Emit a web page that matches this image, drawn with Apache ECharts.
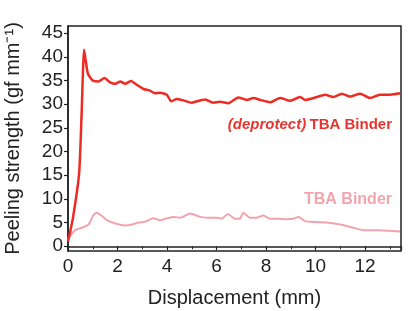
<!DOCTYPE html>
<html>
<head>
<meta charset="utf-8">
<script src="https://cdn.jsdelivr.net/npm/echarts@6/dist/echarts.min.js"></script>
<style>
html,body{margin:0;padding:0;background:#fff}
#main{width:412px;height:311px}
</style>
</head>
<body>
<div id="main"></div>
<script>
// peel curves: [displacement mm, strength gf/mm]
var deprotectData = [
  [0,1],[0.2,6],[0.45,15.5],[0.55,28],[0.65,41.5],[0.72,39],[0.8,36.5],[0.9,35.6],
  [1.03,34.9],[1.23,34.8],[1.47,35.5],[1.7,34.6],[1.91,34.3],[2.11,34.8],[2.31,34.3],
  [2.54,34.9],[2.78,34.1],[3.05,33.2],[3.29,32.9],[3.52,32.3],[3.72,32.4],[3.99,32.0],
  [4.17,30.6],[4.4,31.1],[4.66,30.8],[5.0,30.3],[5.2,30.6],[5.54,31.0],[5.87,30.3],
  [6.14,30.5],[6.48,30.2],[6.88,31.4],[7.22,30.9],[7.49,31.3],[7.76,30.9],[8.17,30.4],
  [8.57,31.3],[8.97,30.7],[9.38,31.5],[9.58,30.9],[10.05,31.5],[10.38,32.0],[10.72,31.5],
  [11.06,32.2],[11.39,31.6],[11.8,32.2],[12.2,31.3],[12.6,32.0],[13.01,32.0],[13.41,32.3]
];
var tbaData = [
  [0,1.5],[0.06,2.0],[0.29,3.4],[0.56,3.9],[0.83,4.6],[1.03,6.6],[1.17,7.1],[1.37,6.4],
  [1.57,5.5],[1.91,4.8],[2.31,4.4],[2.58,4.6],[2.85,5.0],[3.12,5.2],[3.45,5.9],[3.72,5.5],
  [3.99,5.9],[4.26,6.2],[4.53,6.0],[4.93,6.9],[5.34,6.2],[5.74,6.0],[6.01,6.0],[6.21,5.8],
  [6.45,6.8],[6.75,5.8],[6.95,5.9],[7.08,7.1],[7.36,6.0],[7.6,6.0],[7.89,6.5],[8.16,5.8],
  [8.5,5.8],[8.84,5.7],[9.1,5.8],[9.31,6.2],[9.58,5.3],[10.05,5.1],[10.45,5.0],[11.0,4.6],
  [11.53,3.9],[11.93,3.4],[12.6,3.4],[13.14,3.2],[13.41,3.1]
];
var yTicks = [0,5,10,15,20,25,30,35,40,45];

var font = 'Liberation Sans, Arial, sans-serif';
var chart = echarts.init(document.getElementById('main'));
chart.setOption({
  animation: false,
  grid: {left: 68, right: 11, top: 26, bottom: 60, outerBoundsMode: 'none', containLabel: false,
    show: true, borderColor: '#222', borderWidth: 1.5},
  xAxis: {
    type: 'value', min: 0, max: 13.45, interval: 2,
    name: 'Displacement (mm)', nameLocation: 'middle', nameGap: 37,
    nameTextStyle: {fontFamily: font, fontSize: 20, color: '#222'},
    axisLine: {lineStyle: {color: '#222', width: 1.5}},
    axisTick: {length: 4, lineStyle: {color: '#222', width: 1.2}},
    minorTick: {show: true, splitNumber: 2, length: 3, lineStyle: {color: '#222'}},
    axisLabel: {fontFamily: font, fontSize: 19, color: '#222', margin: 6,
      formatter: function (v) { return v > 13 ? '' : v; }},
    splitLine: {show: false}
  },
  yAxis: {
    type: 'value', min: -1, max: 46.5,
    name: 'Peeling strength (gf mm⁻¹)', nameLocation: 'middle', nameGap: 45,
    nameTextStyle: {fontFamily: font, fontSize: 20, color: '#222'},
    axisLine: {show: true, lineStyle: {color: '#222', width: 1.5}},
    axisTick: {show: true, length: 4, customValues: yTicks, lineStyle: {color: '#222', width: 1.2}},
    axisLabel: {fontFamily: font, fontSize: 19, color: '#222', margin: 5, customValues: yTicks},
    splitLine: {show: false}
  },
  series: [
    {name: 'TBA Binder', type: 'line', data: tbaData, showSymbol: false, smooth: 0.2,
      lineStyle: {color: '#f2a3ae', width: 2}},
    {name: '(deprotect) TBA Binder', type: 'line', data: deprotectData, showSymbol: false, smooth: 0.2,
      lineStyle: {color: '#ee2a22', width: 2.5}}
  ],
  graphic: [
    {type: 'text', right: 20, top: 117, style: {
      text: '{i|(deprotect)} {b|TBA Binder}',
      rich: {
        i: {fontFamily: font, fontSize: 15, fontStyle: 'italic', fontWeight: 'bold', fill: '#e8342e'},
        b: {fontFamily: font, fontSize: 15, fontWeight: 'bold', fill: '#e8342e'}
      }}},
    {type: 'text', right: 20, top: 192, style: {
      text: 'TBA Binder', fontFamily: font, fontSize: 16, fontWeight: 'bold', fill: '#f2a5ae'}}
  ]
});
</script>
</body>
</html>
